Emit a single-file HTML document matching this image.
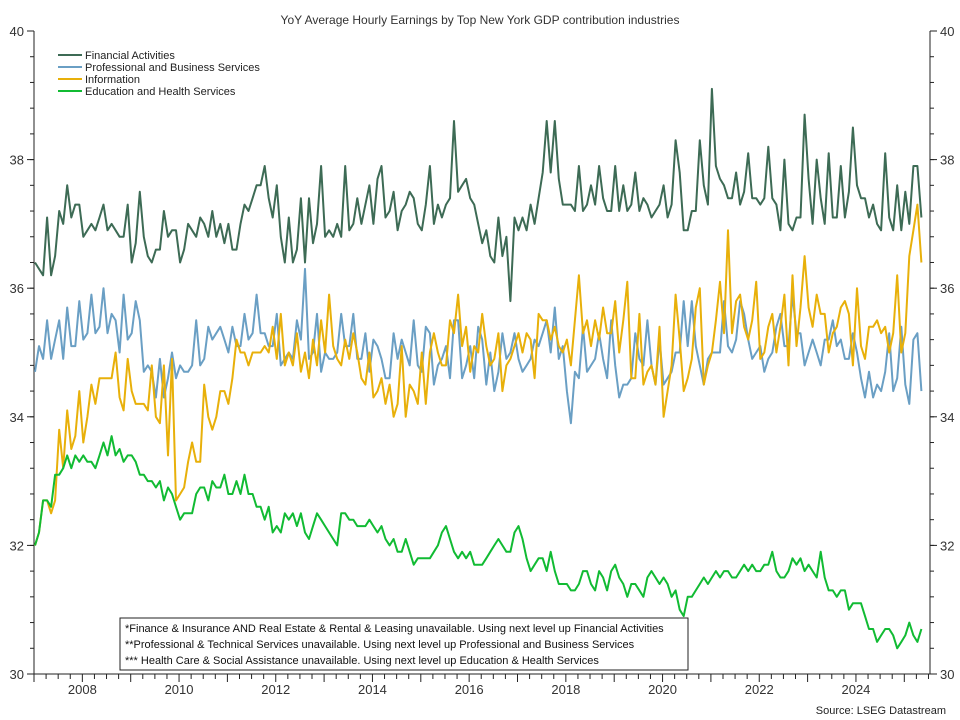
<!DOCTYPE html>
<html><head><meta charset="utf-8"><style>
body{margin:0;background:#fff;}
svg{display:block;font-family:"Liberation Sans",sans-serif;}
</style></head><body>
<svg id="chart" width="960" height="720">
<text x="480" y="24" text-anchor="middle" font-size="12" fill="#333">YoY Average Hourly Earnings by Top New York GDP contribution industries</text>
<g id="axes"></g>
<g id="series"></g>
<g font-size="11" fill="#222">
<line x1="58" y1="55" x2="82" y2="55" stroke="#3d6b55" stroke-width="2"/><text x="85" y="59">Financial Activities</text>
<line x1="58" y1="67" x2="82" y2="67" stroke="#6a9fc4" stroke-width="2"/><text x="85" y="71">Professional and Business Services</text>
<line x1="58" y1="79" x2="82" y2="79" stroke="#e8b00a" stroke-width="2"/><text x="85" y="83">Information</text>
<line x1="58" y1="91" x2="82" y2="91" stroke="#11bb33" stroke-width="2"/><text x="85" y="95">Education and Health Services</text>
</g>
<g font-size="11" fill="#111">
<rect x="120" y="618" width="568" height="52" fill="#fff" stroke="#222"/>
<text x="125" y="632">*Finance &amp; Insurance AND Real Estate &amp; Rental &amp; Leasing unavailable. Using next level up Financial Activities</text>
<text x="125" y="648">**Professional &amp; Technical Services unavailable. Using next level up Professional and Business Services</text>
<text x="125" y="664">*** Health Care &amp; Social Assistance unavailable. Using next level up Education &amp; Health Services</text>
</g>
<text x="946" y="714" text-anchor="end" font-size="11" fill="#222">Source: LSEG Datastream</text>
</svg>
<script>
const yTicks=[30,32,34,36,38,40];
const xYears=[2008,2010,2012,2014,2016,2018,2020,2022,2024];
const startYear=2007;
const financial=[36.4,36.3,36.2,37.1,36.2,36.5,37.2,37.0,37.6,37.1,37.3,37.3,
36.8,36.9,37.0,36.9,37.1,37.3,36.9,37.0,36.9,36.8,36.8,37.3,
36.4,36.7,37.5,36.8,36.5,36.4,36.6,36.6,37.2,36.8,36.9,36.9,
36.4,36.6,37.0,36.9,36.8,37.1,37.0,36.8,37.2,36.8,37.0,36.7,
37.0,36.6,36.6,37.0,37.3,37.2,37.4,37.6,37.6,37.9,37.4,37.1,
37.6,36.8,36.4,37.1,36.4,36.6,37.4,36.4,37.4,36.7,37.0,37.9,
36.8,36.9,36.8,37.0,36.8,37.9,36.9,37.0,37.4,37.0,37.3,37.6,
37.0,37.7,37.9,37.1,37.2,37.5,36.9,37.2,37.3,37.5,37.4,37.0,
36.9,37.3,37.9,37.0,37.3,37.1,37.3,37.4,38.6,37.5,37.6,37.7,
37.4,37.3,37.0,36.7,36.9,36.5,36.4,37.1,36.5,36.8,35.8,37.1,
36.9,37.1,36.9,37.3,37.0,37.4,37.8,38.6,37.8,38.6,37.7,37.3,
37.3,37.3,37.2,37.9,37.2,37.3,37.6,37.3,37.9,37.4,37.2,37.2,
37.9,37.2,37.6,37.2,37.3,37.8,37.2,37.4,37.3,37.1,37.2,37.3,
37.6,37.1,37.3,38.3,37.8,36.9,36.9,37.2,37.2,38.3,37.6,37.3,
39.1,37.9,37.7,37.6,37.4,37.4,37.8,37.3,37.5,38.1,37.4,37.4,
37.3,37.4,38.2,37.4,37.3,36.9,38.0,37.0,36.9,37.1,37.1,38.7,
37.7,37.0,38.0,37.4,37.0,38.1,37.1,37.1,37.9,37.1,37.5,38.5,
37.6,37.4,37.4,37.1,37.3,37.0,36.9,38.1,37.1,36.9,37.6,36.9,
37.5,37.0,37.9,37.9,37.1];
const professional=[34.7,35.1,34.9,35.5,34.9,35.2,35.5,34.9,35.7,35.1,35.1,35.8,
35.2,35.3,35.9,35.3,35.4,36.0,35.3,35.6,35.5,35.0,35.9,35.2,
35.3,35.8,35.5,34.7,34.8,34.7,34.3,34.9,34.3,34.6,35.0,34.6,
34.8,34.7,34.7,34.8,35.5,34.8,34.9,35.4,35.2,35.3,35.4,35.2,
35.0,35.4,35.1,35.1,35.6,35.2,35.3,35.9,35.3,35.3,35.1,35.1,
35.6,34.8,34.9,35.0,34.9,35.5,35.2,36.3,34.9,35.0,35.6,34.7,
35.0,34.9,34.9,35.0,35.6,35.1,35.1,35.6,34.9,34.9,35.3,34.7,
35.2,35.1,34.9,34.6,34.6,35.3,34.9,35.2,35.0,34.8,35.5,34.8,
34.7,35.4,35.3,34.5,34.8,34.9,35.1,34.6,35.5,35.5,34.6,34.8,
35.1,34.6,35.4,35.2,34.5,35.0,34.4,34.7,35.3,34.9,35.0,35.3,
34.9,34.7,34.8,34.9,35.2,35.1,35.3,35.5,35.0,35.7,34.9,35.1,
34.4,33.9,34.7,34.6,35.4,34.7,34.8,34.9,35.3,34.9,34.6,35.5,
34.8,34.3,34.5,34.5,34.6,35.3,34.9,34.8,35.5,34.8,34.5,35.2,
34.5,34.6,34.7,35.0,35.0,35.8,35.1,35.8,35.1,34.8,34.5,34.9,
35.0,35.0,35.0,35.8,35.1,35.0,35.2,35.8,35.6,35.2,34.9,35.0,
35.1,34.7,34.9,35.0,35.4,35.6,35.1,35.1,35.9,35.3,35.3,34.8,
35.0,35.2,35.0,34.8,35.2,35.2,35.5,35.1,35.2,34.9,34.9,35.3,
35.0,34.6,34.3,34.7,34.3,34.5,34.4,34.7,35.3,34.4,34.6,35.4,
34.5,34.2,35.2,35.3,34.4];
const information=[32.0,32.2,32.7,32.7,32.5,32.7,33.8,33.2,34.1,33.5,33.7,34.4,
33.6,34.0,34.5,34.2,34.6,34.6,34.6,34.6,35.0,34.3,34.1,34.9,
34.4,34.2,34.2,34.2,34.1,34.8,34.0,33.9,34.8,33.4,34.9,32.7,
32.8,32.9,33.3,33.6,33.3,33.3,34.5,34.0,33.8,34.0,34.4,34.4,
34.2,34.6,35.2,35.0,35.0,34.8,35.0,35.0,35.0,35.1,35.0,35.4,
34.9,35.6,34.8,35.0,34.8,35.3,34.7,35.0,34.6,35.2,34.8,35.5,
35.0,35.9,35.1,34.9,34.8,35.2,34.9,35.3,35.0,34.6,34.5,35.0,
34.3,34.4,34.6,34.2,34.5,34.0,34.2,35.1,34.0,34.5,34.4,34.2,
35.0,34.2,35.0,35.3,35.0,34.8,34.8,35.5,35.3,35.9,35.1,35.4,
34.7,35.1,35.0,35.6,35.1,34.8,34.9,35.3,34.4,34.8,34.9,35.1,
35.3,35.0,35.3,35.2,34.6,35.6,35.5,35.5,35.2,35.4,35.1,35.0,
35.2,34.8,35.5,36.2,35.3,35.5,35.1,35.5,35.2,35.7,35.3,35.3,
35.8,35.0,35.5,36.1,34.6,34.6,35.6,34.5,34.7,34.8,34.5,35.4,
34.0,34.4,34.8,35.9,35.2,34.4,34.6,34.9,35.7,36.0,34.5,34.8,
35.0,35.5,36.1,35.3,36.9,35.3,35.8,35.9,35.4,35.2,35.5,36.1,
34.9,35.0,35.4,35.6,35.0,35.4,35.9,34.8,36.2,35.1,35.7,36.5,
35.7,35.4,35.9,35.6,35.6,35.0,35.3,35.4,35.7,35.8,35.6,34.8,
36.0,35.1,34.9,35.4,35.4,35.5,35.3,35.4,35.0,35.3,36.2,35.0,
35.3,36.5,36.9,37.3,36.4];
const education=[32.0,32.2,32.7,32.7,32.6,33.1,33.1,33.2,33.4,33.2,33.4,33.3,
33.4,33.3,33.3,33.2,33.4,33.6,33.4,33.7,33.4,33.5,33.3,33.4,
33.4,33.3,33.1,33.1,33.0,33.0,32.9,33.0,32.7,32.9,32.8,32.6,
32.4,32.5,32.5,32.5,32.8,32.9,32.9,32.7,33.0,32.9,32.9,33.1,
32.8,32.8,33.0,32.8,33.1,32.8,32.8,32.6,32.6,32.4,32.6,32.2,
32.3,32.2,32.5,32.4,32.5,32.3,32.5,32.2,32.1,32.3,32.5,32.4,
32.3,32.2,32.1,32.0,32.5,32.5,32.4,32.4,32.3,32.3,32.3,32.4,
32.3,32.2,32.3,32.1,32.0,32.1,31.9,31.9,32.1,31.9,31.7,31.8,
31.8,31.8,31.8,31.9,32.0,32.2,32.3,32.1,31.9,31.8,31.9,31.8,
31.9,31.7,31.7,31.7,31.8,31.9,32.0,32.1,32.0,31.9,31.9,32.2,
32.3,32.1,31.8,31.6,31.7,31.8,31.8,31.6,31.9,31.6,31.4,31.4,
31.4,31.3,31.3,31.4,31.6,31.6,31.4,31.3,31.6,31.5,31.3,31.6,
31.7,31.5,31.4,31.2,31.4,31.4,31.3,31.2,31.5,31.6,31.5,31.4,
31.5,31.4,31.2,31.3,31.0,30.9,31.2,31.2,31.3,31.4,31.5,31.4,
31.5,31.6,31.5,31.6,31.6,31.5,31.5,31.6,31.7,31.6,31.7,31.6,
31.6,31.7,31.7,31.9,31.6,31.5,31.5,31.6,31.8,31.7,31.8,31.6,
31.7,31.6,31.5,31.9,31.5,31.3,31.3,31.2,31.3,31.3,31.0,31.1,
31.1,31.1,30.9,30.7,30.7,30.5,30.6,30.7,30.7,30.6,30.4,30.5,
30.6,30.8,30.6,30.5,30.7];

const NS="http://www.w3.org/2000/svg";
const L=34,R=930,T=31,B=674,yMin=30,yMax=40,pxYear=48.35;
function yS(v){return B-(v-yMin)/(yMax-yMin)*(B-T);}
function xT(t){return L+(t-startYear)*pxYear;}
function xI(i){return xT(startYear+i/12)+1;}
function mk(tag,attrs,parent){const e=document.createElementNS(NS,tag);for(const k in attrs)e.setAttribute(k,attrs[k]);parent.appendChild(e);return e;}
const axes=document.getElementById('axes');
const la=mk('line',{x1:L,y1:T,x2:L,y2:B,stroke:'#222'},axes);


const ra=mk('line',{x1:R,y1:T,x2:R,y2:B,stroke:'#222'},axes);


const ba=mk('line',{x1:L,y1:B,x2:R,y2:B,stroke:'#222'},axes);


for(let v=yMin;v<=yMax+0.001;v+=0.4){const y=yS(v);mk('line',{x1:L-4,y1:y,x2:L,y2:y,stroke:'#222'},axes);mk('line',{x1:R,y1:y,x2:R+4,y2:y,stroke:'#222'},axes);}
yTicks.forEach(v=>{const y=yS(v);
mk('line',{x1:L-7,y1:y,x2:L,y2:y,stroke:'#222'},axes);
mk('line',{x1:R,y1:y,x2:R+7,y2:y,stroke:'#222'},axes);
const t1=mk('text',{x:L-10,y:y+5,'text-anchor':'end','font-size':13,fill:'#333'},axes);t1.textContent=v;


const t2=mk('text',{x:R+10,y:y+5,'font-size':13,fill:'#333'},axes);t2.textContent=v;

});
for(let q=0;q<=18.5*4;q++){const x=xT(startYear+q/4);if(x>R)break;mk('line',{x1:x,y1:B,x2:x,y2:B+(q%4==0?8:5),stroke:'#222'},axes);}
xYears.forEach(yr=>{const t=mk('text',{x:xT(yr),y:694,'text-anchor':'middle','font-size':13,fill:'#333'},axes);t.textContent=yr;

});
const sg=document.getElementById('series');
[[financial,'#3d6b55','line-financial-activities'],[professional,'#6a9fc4','line-professional-business'],[information,'#e8b00a','line-information'],[education,'#11bb33','line-education-health']].forEach(([d,c,n])=>{
const p=mk('polyline',{points:d.map((v,i)=>xI(i).toFixed(1)+','+yS(v).toFixed(1)).join(' '),fill:'none',stroke:c,'stroke-width':2,'stroke-linejoin':'round'},sg);


});
</script>
</body></html>
